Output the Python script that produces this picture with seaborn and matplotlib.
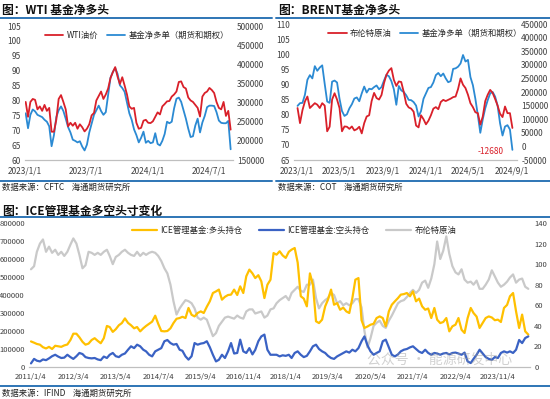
import pandas as pd
import seaborn as sns
import matplotlib.pyplot as plt
from matplotlib.lines import Line2D

sns.set_style('white')
plt.rcParams['font.family'] = ['Noto Sans CJK SC', 'DejaVu Sans']
plt.rcParams['axes.unicode_minus'] = False

W, H = 550, 399

# ---------------- data: WTI panel (weekly, from 2023-01-03) ----------------
wti_price = [79.5, 74.5, 79.5, 80.5, 80.2, 77, 78, 76.5, 78.5, 76.5, 77.5, 69.5, 69.5, 73.5, 80.5, 81.8,
             79.5, 77, 71.3, 72.5, 71.5, 72.5, 70.5, 72, 71, 69.6, 70.5, 72, 75, 75.8, 80, 81.5,
             83, 80.5, 82, 84, 87.5, 89.5, 91.2, 88, 85.5, 87.8, 85, 82, 78, 77.2, 77.5, 72.5,
             70.5, 70.8, 73.2, 73.5, 72.5, 72.4, 73, 74.5, 76, 75.3, 78, 78.8, 79.7, 79.8, 81.3, 82,
             83, 86.2, 86.4, 84.5, 84, 81, 80, 79.5, 78.5, 77.5, 74.6, 81.3, 82.5, 83, 84.2, 83.5,
             82.5, 79.5, 77.5, 77, 79.5, 74.8, 76.5, 70.2]
wti_net = [272000, 233000, 268000, 282000, 277000, 268000, 265000, 262000, 255000, 250000, 238000,
           186000, 215000, 262000, 280000, 290000, 278000, 258000, 236000, 222000, 203000, 200000,
           196000, 199000, 185000, 175000, 190000, 222000, 245000, 268000, 280000, 292000, 278000,
           268000, 275000, 320000, 365000, 380000, 390000, 375000, 345000, 338000, 328000, 300000,
           272000, 255000, 230000, 215000, 196000, 208000, 224000, 195000, 200000, 194000, 196000,
           220000, 192000, 188000, 200000, 218000, 250000, 246000, 250000, 285000, 310000, 313000,
           302000, 280000, 258000, 232000, 210000, 212000, 240000, 258000, 222000, 248000, 265000,
           288000, 292000, 292000, 291000, 275000, 253000, 247000, 246000, 246000, 252000, 178000]

# ---------------- data: BRENT panel (weekly, from 2023-01-03) ----------------
brent_price = [82.2, 77.2, 81.5, 84.4, 86, 82.2, 83, 83.8, 83.3, 82.2, 83.8, 83, 74.5, 76, 85, 87.1,
               85, 82.2, 74.5, 76.1, 76, 75.3, 76.1, 74.8, 75.2, 76, 73.8, 77.2, 79.4, 79.8, 84.5, 87.2,
               85.5, 85, 86.5, 90.4, 93.2, 94.6, 95.4, 91.5, 89.5, 91, 90.8, 87.5, 83.6, 82.4, 82, 81,
               76.4, 75.8, 79.8, 78.5, 76.8, 78, 79.8, 82, 82.5, 81.8, 84.2, 84.9, 84.5, 84.9, 85.3, 85.8,
               86, 88.5, 92, 89.9, 88.8, 86.6, 83.8, 82.5, 80.8, 80.5, 76.7, 79.4, 84.5, 86.6, 88.2, 87.2,
               85.2, 83, 80.3, 79.2, 82.7, 80.5, 80.5, 75.6]
brent_net = [149000, 159000, 160000, 190000, 245000, 262000, 250000, 295000, 278000, 290000, 298000,
             230000, 165000, 160000, 238000, 242000, 235000, 175000, 130000, 112000, 118000, 140000,
             155000, 176000, 180000, 166000, 195000, 220000, 198000, 212000, 210000, 218000, 224000,
             210000, 218000, 242000, 263000, 258000, 240000, 210000, 153000, 222000, 206000, 200000,
             188000, 171000, 170000, 163000, 150000, 110000, 130000, 175000, 195000, 215000, 218000,
             235000, 262000, 270000, 258000, 268000, 250000, 236000, 240000, 285000, 287000, 293000,
             305000, 336000, 312000, 318000, 255000, 225000, 175000, 115000, 50000, 100000, 140000,
             170000, 195000, 200000, 183000, 150000, 85000, 40000, 73000, 78000, 62000, -12680]

# ---------------- data: ICE panel (monthly, from 2011-01) ----------------
ice_long_k = [142, 135, 128, 124, 110, 103, 112, 100, 118, 115, 112, 120, 125, 150, 185, 185, 165, 140,
              124, 130, 150, 160, 145, 132, 160, 228, 222, 195, 210, 232, 244, 270, 245, 232, 215, 222,
              198, 215, 228, 240, 252, 285, 240, 200, 198, 200, 215, 244, 268, 272, 279, 272, 328, 290,
              281, 300, 309, 300, 335, 365, 411, 420, 430, 374, 390, 400, 402, 430, 400, 448, 411, 504,
              541, 520, 494, 510, 476, 383, 457, 485, 633, 624, 643, 620, 606, 640, 652, 661, 580, 393,
              380, 337, 520, 457, 254, 244, 263, 337, 374, 430, 346, 355, 318, 330, 309, 300, 383, 485,
              494, 260, 217, 225, 235, 240, 272, 281, 272, 226, 309, 346, 365, 383, 402, 405, 411, 393,
              420, 365, 380, 337, 318, 325, 272, 328, 263, 244, 250, 272, 198, 226, 235, 272, 207, 189,
              272, 328, 300, 280, 217, 245, 272, 281, 275, 260, 263, 250, 328, 345, 393, 411, 309, 217,
              291, 198, 180]
ice_short_k = [20, 45, 35, 31, 42, 38, 48, 60, 68, 58, 50, 52, 68, 55, 45, 60, 78, 72, 55, 50, 48, 50,
               42, 38, 58, 50, 68, 78, 60, 55, 68, 75, 96, 115, 105, 124, 115, 96, 87, 68, 59, 87, 96,
               105, 143, 150, 133, 124, 128, 96, 90, 59, 41, 60, 133, 124, 130, 133, 143, 110, 68, 31,
               40, 68, 50, 87, 133, 75, 78, 152, 87, 78, 105, 70, 95, 143, 170, 180, 96, 68, 68, 68, 59,
               65, 62, 68, 50, 78, 87, 68, 55, 62, 87, 115, 124, 100, 87, 78, 62, 50, 45, 59, 68, 78,
               87, 80, 96, 87, 105, 143, 170, 120, 87, 68, 78, 87, 143, 152, 110, 68, 59, 70, 87, 96,
               100, 109, 115, 100, 85, 78, 96, 78, 68, 78, 75, 68, 75, 78, 70, 78, 80, 75, 68, 80, 31,
               22, 45, 68, 96, 75, 55, 45, 40, 55, 50, 78, 87, 80, 87, 78, 96, 150, 133, 161, 170]
ice_brent = [95, 98, 112, 120, 124, 112, 117, 111, 114, 109, 112, 108, 112, 119, 125, 120, 109, 96, 99,
             112, 111, 109, 111, 109, 112, 114, 108, 100, 107, 109, 112, 114, 111, 109, 108, 112, 108,
             111, 109, 111, 112, 111, 108, 103, 96, 91, 80, 64, 51, 57, 61, 65, 64, 62, 57, 48, 46, 48,
             46, 38, 30, 33, 40, 44, 48, 49, 48, 47, 50, 48, 47, 54, 56, 56, 52, 53, 54, 48, 50, 56, 57,
             62, 65, 67, 69, 65, 72, 75, 78, 74, 73, 80, 80, 85, 67, 57, 62, 65, 67, 72, 70, 62, 64, 60,
             62, 60, 62, 66, 66, 58, 35, 19, 28, 40, 43, 45, 40, 38, 45, 50, 56, 62, 64, 65, 68, 72, 75,
             72, 75, 82, 84, 77, 86, 100, 122, 105, 113, 127, 110, 98, 92, 90, 95, 85, 82, 83, 80, 84,
             76, 76, 80, 85, 94, 88, 82, 78, 80, 83, 87, 90, 82, 85, 86, 78, 76]

wk = pd.date_range('2023-01-03', periods=len(wti_price), freq='7D')
wti = pd.DataFrame({'date': wk, 'price': wti_price, 'net': wti_net})
brent = pd.DataFrame({'date': wk, 'price': brent_price, 'net': brent_net})
mo = pd.date_range('2011-01-01', periods=len(ice_brent), freq='MS') + pd.Timedelta(days=3)
ice = pd.DataFrame({'date': mo, 'long': [v * 1000 for v in ice_long_k],
                    'short': [v * 1000 for v in ice_short_k], 'brent': ice_brent})

RED = '#D9202A'
LBLUE = '#2B8AD3'
YEL = '#FFC000'
DBLUE = '#3A62C4'
GRAY = '#C9C9C9'
SEP = '#2E75B6'
TXT = '#404040'

fig = plt.figure(figsize=(W / 100, H / 100), dpi=100)


def rect(l, t, r, b):
    return [l / W, 1 - b / H, (r - l) / W, (b - t) / H]


def frame(x0, x1, ytitle, yline1, yline2, ysrc, title, src):
    fig.text(x0 / W + 0.003, 1 - ytitle / H, title, fontsize=8.5, fontweight='bold',
             color='#111111', va='center', ha='left')
    fig.add_artist(Line2D([x0 / W, x1 / W], [1 - yline1 / H] * 2, color=SEP, lw=1.4))
    fig.add_artist(Line2D([x0 / W, x1 / W], [1 - yline2 / H] * 2, color=SEP, lw=1.4))
    fig.text(x0 / W + 0.003, 1 - ysrc / H, src, fontsize=6, color='#222222', va='center', ha='left')


def style(ax, axr, xticks, xlabels):
    for a in (ax, axr):
        for s in ('top', 'left', 'right'):
            a.spines[s].set_visible(False)
        a.spines['bottom'].set_color('#BFBFBF')
        a.tick_params(axis='y', length=0, labelsize=6, colors=TXT, pad=3)
        a.set_xlabel('')
        a.set_ylabel('')
    ax.set_xticks(xticks)
    ax.set_xticklabels(xlabels)
    ax.tick_params(axis='x', length=2.5, color='#BFBFBF', labelsize=6, colors=TXT, pad=2)


def lbl(d):
    return f'{d.year}/{d.month}/{d.day}'


# ---------------- WTI ----------------
frame(0, 272, 10, 18, 181, 187, '图：WTI 基金净多头', '数据来源：CFTC    海通期货研究所')
ax1 = fig.add_axes(rect(25, 26, 233, 160))
ax1r = ax1.twinx()
sns.lineplot(data=wti, x='date', y='net', ax=ax1r, color=LBLUE, linewidth=1.3)
sns.lineplot(data=wti, x='date', y='price', ax=ax1, color=RED, linewidth=1.3)
ax1.set_zorder(ax1r.get_zorder() + 1)
ax1.patch.set_visible(False)
ax1.set_ylim(60, 105)
ax1.set_yticks(range(60, 106, 5))
ax1r.set_ylim(150000, 500000)
ax1r.set_yticks(range(150000, 500001, 50000))
ax1.set_xlim(pd.Timestamp('2023-01-01'), pd.Timestamp('2024-09-10'))
xt = [pd.Timestamp(s) for s in ['2023-01-01', '2023-07-01', '2024-01-01', '2024-07-01']]
style(ax1, ax1r, xt, [lbl(d) for d in xt])
ax1.legend(handles=[Line2D([], [], color=RED, lw=1.3), Line2D([], [], color=LBLUE, lw=1.3)],
           labels=['WTI油价', '基金净多单（期货和期权）'], ncol=2, frameon=False, fontsize=6,
           loc='upper left', bbox_to_anchor=(0.06, 1.02), handlelength=2.2, columnspacing=1.0,
           handletextpad=0.4)

# ---------------- BRENT ----------------
frame(276, 550, 10, 18, 181, 187, '图：BRENT基金净多头', '数据来源：COT    海通期货研究所')
ax2 = fig.add_axes(rect(294, 24, 517, 160))
ax2r = ax2.twinx()
sns.lineplot(data=brent, x='date', y='net', ax=ax2r, color=LBLUE, linewidth=1.3)
sns.lineplot(data=brent, x='date', y='price', ax=ax2, color=RED, linewidth=1.3)
ax2.set_zorder(ax2r.get_zorder() + 1)
ax2.patch.set_visible(False)
ax2.set_ylim(65, 110)
ax2.set_yticks(range(65, 111, 5))
ax2r.set_ylim(-50000, 450000)
ax2r.set_yticks(range(-50000, 450001, 50000))
ax2.set_xlim(pd.Timestamp('2022-12-24'), pd.Timestamp('2024-09-16'))
xt = [pd.Timestamp(s) for s in ['2023-01-01', '2023-05-01', '2023-09-01', '2024-01-01',
                                '2024-05-01', '2024-09-01']]
style(ax2, ax2r, xt, [lbl(d) for d in xt])
last = brent.iloc[-1]
ax2r.annotate(f"{int(last['net'])}", xy=(last['date'], last['net']), xytext=(-16, -1),
              textcoords='offset points', fontsize=6, color=RED, ha='center', va='center')
ax2.legend(handles=[Line2D([], [], color=RED, lw=1.3), Line2D([], [], color=LBLUE, lw=1.3)],
           labels=['布伦特原油', '基金净多单（期货和期权）'], ncol=2, frameon=False, fontsize=6,
           loc='upper left', bbox_to_anchor=(0.12, 1.02), handlelength=2.2, columnspacing=1.0,
           handletextpad=0.4)

# ---------------- ICE ----------------
frame(0, 550, 211, 217, 386, 393, '图：ICE管理基金多空头寸变化', '数据来源：IFIND    海通期货研究所')
ax3 = fig.add_axes(rect(29, 223, 530, 367))
ax3r = ax3.twinx()
sns.lineplot(data=ice, x='date', y='brent', ax=ax3r, color=GRAY, linewidth=1.6)
sns.lineplot(data=ice, x='date', y='long', ax=ax3, color=YEL, linewidth=1.6)
sns.lineplot(data=ice, x='date', y='short', ax=ax3, color=DBLUE, linewidth=1.6)
ax3.set_zorder(ax3r.get_zorder() + 1)
ax3.patch.set_visible(False)
ax3.set_ylim(0, 800000)
ax3.set_yticks(range(0, 800001, 100000))
ax3r.set_ylim(0, 140)
ax3r.set_yticks(range(0, 141, 20))
ax3.set_xlim(pd.Timestamp('2010-12-15'), pd.Timestamp('2024-09-21'))
xt = [pd.Timestamp('2011-01-04') + pd.DateOffset(months=14 * i) for i in range(12)]
style(ax3, ax3r, xt, [lbl(d) for d in xt])
ax3.tick_params(axis='y', labelsize=5.5)
ax3r.tick_params(axis='y', labelsize=5.5)
ax3.tick_params(axis='x', labelsize=5.5)
ax3.legend(handles=[Line2D([], [], color=YEL, lw=1.6), Line2D([], [], color=DBLUE, lw=1.6),
                    Line2D([], [], color=GRAY, lw=1.6)],
           labels=['ICE管理基金:多头持仓', 'ICE管理基金:空头持仓', '布伦特原油'], ncol=3,
           frameon=False, fontsize=6, loc='upper left', bbox_to_anchor=(0.19, 1.03),
           handlelength=3.0, columnspacing=2.0, handletextpad=0.4)

# watermark, kept just above the date labels
fig.text(440 / W, 1 - 360 / H, '公众号 · 能源研发中心', fontsize=10, color='#9A9A9A', alpha=0.45,
         ha='center', va='center')

fig.savefig('out.png', dpi=100)
